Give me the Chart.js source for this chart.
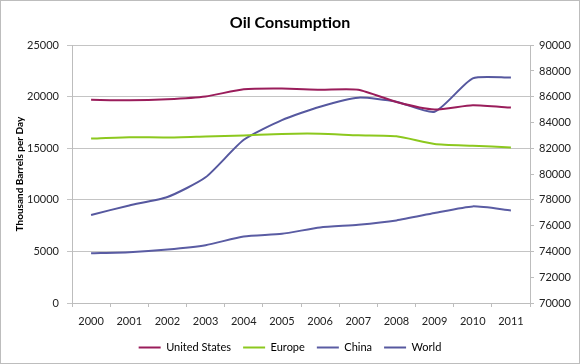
<!DOCTYPE html>
<html>
<head>
<meta charset="utf-8">
<script src="https://cdn.jsdelivr.net/npm/chart.js@4"></script>
<style>
  html, body { margin: 0; padding: 0; background: #fff; }
  #wrap { width: 578px; height: 362px; border: 1px solid #bdbdbd; }
</style>
</head>
<body>
<div id="wrap"><canvas id="myChart" width="578" height="362"></canvas></div>
<script>
const years = ['2000','2001','2002','2003','2004','2005','2006','2007','2008','2009','2010','2011']

// thousand barrels per day
const unitedStates = [19700, 19650, 19760, 20030, 20730, 20800, 20690, 20680, 19500, 18770, 19180, 18950]
const europe = [15950, 16080, 16050, 16150, 16250, 16400, 16420, 16260, 16170, 15430, 15250, 15080]
const china = [4830, 4930, 5190, 5610, 6450, 6710, 7330, 7590, 8010, 8720, 9370, 8980]
// world uses the right axis
const world = [76830, 77570, 78220, 79750, 82660, 84190, 85230, 85930, 85620, 84840, 87430, 87490]

const leftTicks = [0, 5000, 10000, 15000, 20000, 25000]
const rightTicks = [70000, 72000, 74000, 76000, 78000, 80000, 82000, 84000, 86000, 88000, 90000]

const font = "Lato, 'Open Sans', sans-serif"
const axisGray = '#bdbdbd'

const data = {
    labels: years,
    datasets: [{
      label: 'United States',
      borderColor: '#9a1d5b',
      backgroundColor: '#9a1d5b',
      borderWidth: 2,
      data: unitedStates,
      yAxisID: 'y'
    }, {
      label: 'Europe',
      borderColor: '#8cc81e',
      backgroundColor: '#8cc81e',
      borderWidth: 2,
      data: europe,
      yAxisID: 'y'
    }, {
      label: 'China',
      borderColor: '#5a5ca3',
      backgroundColor: '#5a5ca3',
      borderWidth: 2,
      data: china,
      yAxisID: 'y'
    }, {
      label: 'World',
      borderColor: '#56589f',
      backgroundColor: '#56589f',
      borderWidth: 2,
      data: world,
      yAxisID: 'y1'
    }]
}

const config = {
    type: 'line',
    data: data,
    options: {
      responsive: false,
      animation: false,
      layout: { padding: 0 },
      elements: {
        line: { tension: 0.2 },
        point: { radius: 0 }
      },
      plugins: {
        title: {
          display: true,
          text: 'Oil Consumption',
          color: '#000',
          font: { family: font, size: 16, weight: 'bold' },
          padding: { top: 12, bottom: 13 }
        },
        legend: {
          position: 'bottom',
          labels: {
            usePointStyle: true,
            pointStyle: 'line',
            pointStyleWidth: 22,
            color: '#000',
            font: { family: font, size: 11 },
            padding: 12
          }
        },
        tooltip: { enabled: false }
      },
      scales: {
        x: {
          offset: true,
          grid: { offset: true, drawOnChartArea: false, color: axisGray, tickLength: 4 },
          border: { color: axisGray },
          ticks: { color: '#222', font: { family: font, size: 11 }, padding: 8, maxRotation: 0 },
          afterFit: function(scale) { scale.height = 27 }
        },
        y: {
          position: 'left',
          min: 0,
          max: 25000,
          afterBuildTicks: function(scale) { scale.ticks = leftTicks.map(v => ({ value: v })) },
          grid: { color: '#c4c4c4', tickLength: 5 },
          border: { color: axisGray },
          ticks: { color: '#222', font: { family: font, size: 11 }, padding: 8, callback: v => String(v) },
          title: {
            display: true,
            text: 'Thousand Barrels per Day',
            color: '#000',
            font: { family: font, size: 10, weight: 'bold' },
            padding: { top: 13, bottom: 0 }
          },
          afterFit: function(scale) { scale.width = 71 }
        },
        y1: {
          position: 'right',
          min: 70000,
          max: 90000,
          afterBuildTicks: function(scale) { scale.ticks = rightTicks.map(v => ({ value: v })) },
          grid: { drawOnChartArea: false, color: axisGray, tickLength: 4 },
          border: { color: axisGray },
          ticks: { color: '#222', font: { family: font, size: 11 }, padding: 5, callback: v => String(v) },
          afterFit: function(scale) { scale.width = 49 }
        }
      }
    }
}

const myChart = new Chart(
    document.getElementById('myChart'),
    config
)
</script>
</body>
</html>
